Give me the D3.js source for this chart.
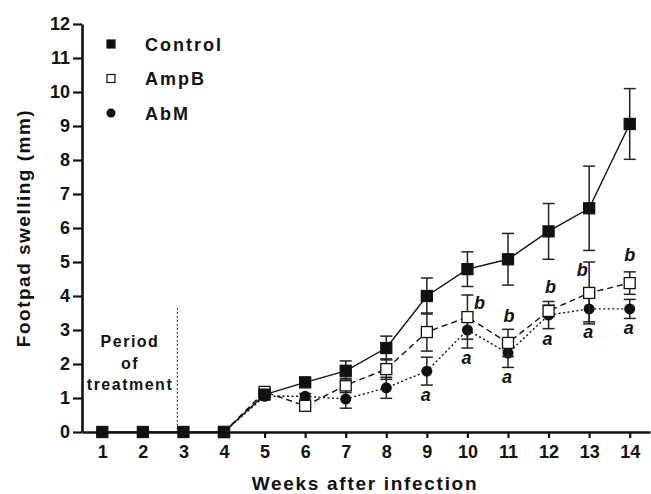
<!DOCTYPE html>
<html>
<head>
<meta charset="utf-8">
<script src="https://cdn.jsdelivr.net/npm/d3@7"></script>
<style>
  body { margin: 0; background: #fff; }
  text { font-family: "Liberation Sans", Arial, sans-serif; font-weight: bold; fill: #111; }
</style>
</head>
<body>
<div id="graph"></div>
<script>

// data
var weeks = [1, 2, 3, 4, 5, 6, 7, 8, 9, 10, 11, 12, 13, 14];
var controlMean = [0, 0, 0, 0, 1.1, 1.46, 1.8, 2.47, 4.0, 4.79, 5.08, 5.9, 6.58, 9.06];
var controlErr  = [0, 0, 0, 0, 0.05, 0.06, 0.29, 0.35, 0.53, 0.51, 0.76, 0.82, 1.24, 1.04];
var ampbMean = [null, null, null, 0, 1.18, 0.77, 1.37, 1.85, 2.94, 3.38, 2.62, 3.56, 4.09, 4.38];
var ampbErr  = [null, null, null, 0, 0.04, 0.05, 0.21, 0.3, 0.56, 0.65, 0.4, 0.17, 0.91, 0.33];
var abmMean = [null, null, null, 0, 1.05, 1.05, 0.97, 1.3, 1.79, 3.0, 2.32, 3.44, 3.62, 3.62];
var abmErr  = [null, null, null, 0, 0.04, 0.08, 0.27, 0.31, 0.41, 0.53, 0.42, 0.4, 0.38, 0.28];
var aWeeks = [9, 10, 11, 12, 13, 14];   // "a" under AbM
var bWeeks = [10, 11, 12, 13, 14];      // "b" next to AmpB
var yTicks = d3.range(0, 13);
var treatmentEnd = 2.85;
var treatmentTop = 3.65;

var width = 651, height = 494;

var svg = d3.select("#graph")
  .append("svg")
    .attr("width", width)
    .attr("height", height);

var x = d3.scaleLinear()
  .domain([0.5, 14.5])
  .range([82, 650]);

var y = d3.scaleLinear()
  .domain([0, 12])
  .range([432, 24]);

// axes
var xAxis = svg.append("g")
  .attr("transform", "translate(0," + y(0) + ")")
  .call(d3.axisBottom(x).tickValues(weeks).tickSize(6).tickPadding(7).tickSizeOuter(0));
var yAxis = svg.append("g")
  .attr("transform", "translate(" + x(0.5) + ",0)")
  .call(d3.axisLeft(y).tickValues(yTicks).tickSize(9).tickPadding(3).tickSizeOuter(0));

[xAxis, yAxis].forEach(function(ax) {
  ax.select(".domain").attr("stroke", "#111").attr("stroke-width", 2.6);
  ax.selectAll(".tick line").attr("stroke", "#111").attr("stroke-width", 2.2);
  ax.selectAll(".tick text")
    .style("font-family", "'Liberation Sans', Arial, sans-serif")
    .style("font-weight", "bold")
    .style("font-size", "18px")
    .attr("fill", "#111");
});

// axis titles
svg.append("text")
  .attr("x", 365).attr("y", 490)
  .attr("text-anchor", "middle")
  .style("font-size", "19px")
  .style("letter-spacing", "1.7px")
  .text("Weeks after infection");

svg.append("text")
  .attr("transform", "translate(30," + ((y(0) + y(12)) / 2) + ") rotate(-90)")
  .attr("text-anchor", "middle")
  .style("font-size", "19px")
  .style("letter-spacing", "1.5px")
  .text("Footpad swelling (mm)");

// period of treatment
svg.append("line")
  .attr("x1", x(treatmentEnd)).attr("x2", x(treatmentEnd))
  .attr("y1", y(treatmentTop)).attr("y2", y(0))
  .attr("stroke", "#222").attr("stroke-width", 1)
  .attr("stroke-dasharray", "2,2");

["Period", "of", "treatment"].forEach(function(t, i) {
  svg.append("text")
    .attr("x", 130).attr("y", 347 + i * 21.5)
    .attr("text-anchor", "middle")
    .style("font-size", "16px")
    .style("letter-spacing", "1.5px")
    .text(t);
});

var series = [
  {name: "AbM", mean: abmMean, err: abmErr, dash: "2,2.5", marker: "circle", fill: "#111"},
  {name: "AmpB", mean: ampbMean, err: ampbErr, dash: "6,4", marker: "square", fill: "#fff"},
  {name: "Control", mean: controlMean, err: controlErr, dash: null, marker: "square", fill: "#111"}
];

series.forEach(function(s) {
  var pts = weeks.map(function(w, i) { return {w: w, m: s.mean[i], e: s.err[i]}; })
    .filter(function(d) { return d.m !== null; });

  var line = d3.line()
    .x(function(d) { return x(d.w); })
    .y(function(d) { return y(d.m); });

  svg.append("path")
    .datum(pts)
    .attr("d", line)
    .attr("fill", "none")
    .attr("stroke", "#111")
    .attr("stroke-width", 1.4)
    .attr("stroke-dasharray", s.dash);

  var eb = svg.append("g").selectAll("g")
    .data(pts.filter(function(d) { return d.e > 0; }))
    .enter().append("g")
    .attr("stroke", "#222").attr("stroke-width", 1.5);
  eb.append("line")
    .attr("x1", function(d) { return x(d.w); }).attr("x2", function(d) { return x(d.w); })
    .attr("y1", function(d) { return y(d.m + d.e); }).attr("y2", function(d) { return y(d.m - d.e); });
  eb.append("line")
    .attr("x1", function(d) { return x(d.w) - 6; }).attr("x2", function(d) { return x(d.w) + 6; })
    .attr("y1", function(d) { return y(d.m + d.e); }).attr("y2", function(d) { return y(d.m + d.e); });
  eb.append("line")
    .attr("x1", function(d) { return x(d.w) - 6; }).attr("x2", function(d) { return x(d.w) + 6; })
    .attr("y1", function(d) { return y(d.m - d.e); }).attr("y2", function(d) { return y(d.m - d.e); });

  var mk = svg.append("g").selectAll(".mk")
    .data(pts)
    .enter();
  if (s.marker === "circle") {
    mk.append("circle")
      .attr("cx", function(d) { return x(d.w); })
      .attr("cy", function(d) { return y(d.m); })
      .attr("r", 5.5)
      .attr("fill", s.fill);
  } else {
    mk.append("rect")
      .attr("x", function(d) { return x(d.w) - 5.5; })
      .attr("y", function(d) { return y(d.m) - 5.5; })
      .attr("width", 11).attr("height", 11)
      .attr("fill", s.fill)
      .attr("stroke", "#111").attr("stroke-width", 1.3);
  }
});

// significance letters
aWeeks.forEach(function(w) {
  var i = weeks.indexOf(w);
  svg.append("text")
    .attr("x", x(w) - 1)
    .attr("y", y(abmMean[i] - abmErr[i]) + 16)
    .attr("text-anchor", "middle")
    .style("font-style", "italic")
    .style("font-size", "18px")
    .text("a");
});

var bNudge = {10: [12, 14], 11: [1, -7], 12: [2, -12], 13: [-7, 14], 14: [0, -11]};
bWeeks.forEach(function(w) {
  var i = weeks.indexOf(w);
  svg.append("text")
    .attr("x", x(w) + bNudge[w][0])
    .attr("y", y(ampbMean[i] + ampbErr[i]) + bNudge[w][1])
    .attr("text-anchor", "middle")
    .style("font-style", "italic")
    .style("font-size", "18px")
    .text("b");
});

// legend
var legend = svg.append("g");
var legendItems = ["Control", "AmpB", "AbM"];
var legendFill = ["#111", "#fff", "#111"];
legendItems.forEach(function(name, i) {
  var cy = 44 + i * 34.5;
  if (name === "AbM") {
    legend.append("circle").attr("cx", 111).attr("cy", cy).attr("r", 4.5).attr("fill", "#111");
  } else {
    legend.append("rect")
      .attr("x", 107).attr("y", cy - 4).attr("width", 8).attr("height", 8)
      .attr("fill", legendFill[i]).attr("stroke", "#111").attr("stroke-width", 1.2);
  }
  legend.append("text")
    .attr("x", 145).attr("y", cy + 6.5)
    .style("font-size", "18px")
    .style("letter-spacing", "2px")
    .text(name);
});

</script>
</body>
</html>
